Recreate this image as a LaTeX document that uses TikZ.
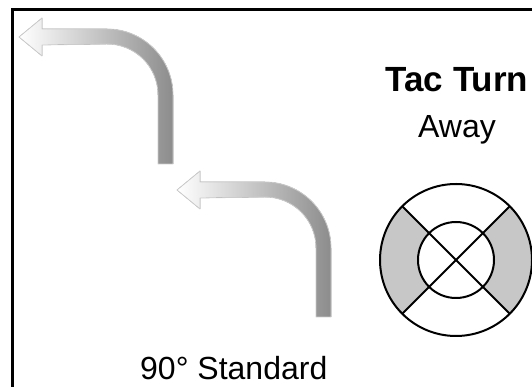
\documentclass[tikz,border=0pt]{standalone}
\usepackage{fontspec}
\setmainfont{Liberation Sans}
\tikzset{
  framedge/.style = {line width=3pt},
  turnfill/.style = {left color=white,right color=black!45,draw=gray!40,line width=0.8pt,line join=round},
  ringline/.style = {line width=2pt},
  sector/.style   = {fill=black!22}
}
\newcommand{\turnarrow}[2]{%
  \filldraw[turnfill,shift={(#1,#2)}] (0,0) -- (23,19) -- (23,8) -- (88,8)
    arc[start angle=90,end angle=0,radius=66] -- (154,-127) -- (139,-127)
    -- (139,-58) arc[start angle=0,end angle=90,radius=51] -- (23,-8)
    -- (23,-19) -- cycle;
}

\begin{document}
\begin{tikzpicture}[x=1pt,y=1pt]
  \useasboundingbox (0,0) rectangle (532,387);
  \draw[framedge] (12.5,0) -- (12.5,377.5) -- (532,377.5);
  \turnarrow{19}{350}
  \turnarrow{177}{197}
  % ring
  \coordinate (ctr) at (456,127);
  \fill[sector] (ctr) ++(135:76) arc[start angle=135,end angle=225,radius=76]
    -- ++(45:38) arc[start angle=225,end angle=135,radius=38] -- cycle;
  \fill[sector] (ctr) ++(-45:76) arc[start angle=-45,end angle=45,radius=76]
    -- ++(225:38) arc[start angle=45,end angle=-45,radius=38] -- cycle;
  \draw[ringline] (ctr) circle[radius=76];
  \draw[ringline] (ctr) circle[radius=38];
  \draw[ringline] (ctr) ++(45:76) -- ++(225:152);
  \draw[ringline] (ctr) ++(135:76) -- ++(-45:152);
  \node[anchor=base,font=\bfseries\fontsize{35}{42}\selectfont] (title) at (457,295) {Tac Turn};
  \node[anchor=base,font=\fontsize{32}{38}\selectfont] (away) at (457,249) {Away};
  \node[anchor=base west,inner sep=0pt,font=\fontsize{32}{38}\selectfont] (std) at (140,7) {90° Standard};
\end{tikzpicture}
\end{document}
